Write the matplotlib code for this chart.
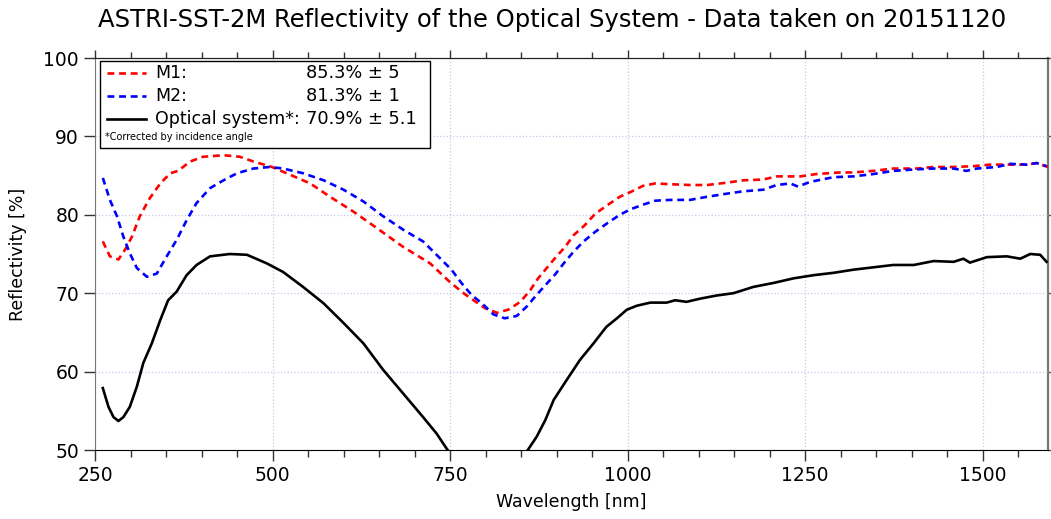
import matplotlib.pyplot as plt
from matplotlib.patches import Rectangle
from matplotlib.ticker import MultipleLocator

# M1 mirror (red dashed)
m1_wl = [261, 271, 283, 292, 302, 313, 327, 342, 356, 367, 384, 402, 431, 454, 473, 499,
         525, 553, 581, 614, 647, 684, 722, 750, 769, 783, 799, 816, 832, 849, 863, 874,
         886, 898, 912, 924, 940, 954, 971, 989, 1004, 1022, 1039, 1060, 1088, 1112, 1140,
         1163, 1191, 1210, 1243, 1266, 1299, 1318, 1346, 1374, 1407, 1431, 1459, 1487,
         1511, 1534, 1562, 1576, 1592]
m1_r = [76.6, 74.7, 74.3, 75.5, 77.2, 79.8, 82.1, 84.0, 85.3, 85.6, 86.8, 87.4, 87.6, 87.4,
        86.8, 86.1, 85.1, 84.0, 82.3, 80.4, 78.3, 75.9, 73.8, 71.4, 70.0, 69.1, 68.1, 67.5,
        67.9, 68.9, 70.4, 71.9, 73.2, 74.5, 75.9, 77.4, 78.7, 80.1, 81.2, 82.3, 82.9, 83.7,
        84.0, 83.9, 83.8, 83.8, 84.1, 84.4, 84.5, 84.9, 84.9, 85.2, 85.4, 85.4, 85.6, 85.9,
        85.9, 86.1, 86.1, 86.2, 86.4, 86.4, 86.4, 86.6, 86.1]

# M2 mirror (blue dashed)
m2_wl = [261, 271, 281, 290, 299, 309, 323, 337, 351, 365, 379, 393, 412, 431, 450, 473,
         496, 515, 543, 572, 600, 628, 656, 684, 712, 731, 752, 766, 780, 795, 811, 827,
         844, 858, 872, 884, 898, 910, 924, 938, 954, 971, 989, 1004, 1022, 1039, 1060,
         1088, 1112, 1140, 1163, 1191, 1210, 1229, 1240, 1257, 1290, 1318, 1346, 1374,
         1407, 1431, 1459, 1477, 1492, 1520, 1539, 1562, 1576, 1590]
m2_r = [84.7, 81.9, 79.8, 77.2, 75.1, 73.2, 72.1, 72.5, 74.7, 76.8, 79.3, 81.5, 83.4, 84.4,
        85.3, 85.9, 86.1, 85.9, 85.3, 84.4, 83.2, 81.7, 79.8, 78.1, 76.6, 74.9, 73.0, 71.3,
        69.8, 68.7, 67.3, 66.8, 67.1, 68.3, 69.8, 71.0, 72.4, 73.8, 75.3, 76.6, 77.8, 78.9,
        80.0, 80.7, 81.3, 81.8, 81.9, 81.9, 82.3, 82.7, 83.0, 83.2, 83.8, 84.0, 83.6, 84.2,
        84.8, 84.9, 85.2, 85.6, 85.8, 85.9, 85.9, 85.6, 85.9, 86.1, 86.5, 86.4, 86.6, 86.2]

# optical system (black)
os_wl = [261, 269, 276, 283, 290, 299, 309, 318, 330, 342, 353, 365, 379, 393, 412, 440,
         464, 492, 515, 543, 572, 600, 628, 656, 684, 712, 731, 745, 760, 800, 845, 858,
         872, 884, 896, 914, 933, 952, 970, 985, 999, 1013, 1032, 1055, 1067, 1083, 1102,
         1125, 1149, 1177, 1205, 1234, 1262, 1290, 1318, 1346, 1374, 1403, 1431, 1459,
         1473, 1482, 1506, 1534, 1553, 1567, 1581, 1590]
os_r = [57.9, 55.5, 54.2, 53.7, 54.2, 55.5, 58.1, 61.1, 63.6, 66.6, 69.1, 70.2, 72.3, 73.6,
        74.7, 75.0, 74.9, 73.8, 72.7, 70.8, 68.7, 66.2, 63.6, 60.2, 57.2, 54.2, 52.1, 50.2,
        48.3, 44.5, 48.3, 49.8, 51.7, 53.8, 56.4, 58.9, 61.5, 63.6, 65.7, 66.8, 67.9, 68.4,
        68.8, 68.8, 69.1, 68.9, 69.3, 69.7, 70.0, 70.8, 71.3, 71.9, 72.3, 72.6, 73.0, 73.3,
        73.6, 73.6, 74.1, 74.0, 74.4, 73.9, 74.6, 74.7, 74.4, 75.0, 74.9, 74.0]

legend_names = ["M1:", "M2:", "Optical system*:"]
legend_values = ["85.3% \u00b1 5", "81.3% \u00b1 1", "70.9% \u00b1 5.1"]
legend_note = "*Corrected by incidence angle"

plt.rcParams['font.family'] = ['DejaVu Sans']
fig = plt.figure(figsize=(10.51, 5.19), dpi=100)
ax = fig.add_axes([95 / 1051, 1 - 450 / 519, 953 / 1051, 392 / 519])

lw = 1.9
ax.plot(m1_wl, m1_r, color='red', lw=lw, dashes=(2.6, 1.8))
ax.plot(m2_wl, m2_r, color='blue', lw=lw, dashes=(2.6, 1.8))
ax.plot(os_wl, os_r, color='black', lw=lw)

ax.set_xlim(250, 1592)
ax.set_ylim(50, 100)
ax.xaxis.set_major_locator(MultipleLocator(250))
ax.xaxis.set_minor_locator(MultipleLocator(50))
ax.yaxis.set_major_locator(MultipleLocator(10))
ax.grid(True, which='major', color='#c8c8e8', ls=':', lw=0.9)
ax.tick_params(axis='both', which='major', direction='out', length=8, width=1,
               labelsize=13.5, color='#333333')
ax.tick_params(axis='x', which='minor', direction='out', length=5, width=1,
               color='#333333')
# short mirror ticks on top and right edges
ax2 = ax.secondary_xaxis('top')
ax2.xaxis.set_major_locator(MultipleLocator(250))
ax2.xaxis.set_minor_locator(MultipleLocator(50))
ax2.tick_params(which='major', length=6, width=1, labeltop=False, color='#333333')
ax2.tick_params(which='minor', length=4, width=1, color='#333333')
ax2.spines['top'].set_color('#222222')
ax3 = ax.secondary_yaxis('right')
ax3.yaxis.set_major_locator(MultipleLocator(10))
ax3.tick_params(length=3, width=1, labelright=False, color='#555555')
ax3.spines['right'].set_color('#777777')
ax3.spines['right'].set_linewidth(1.6)
ax.spines['left'].set_color('#777777')
ax.spines['right'].set_color('#777777')
ax.spines['bottom'].set_color('black')
ax.spines['top'].set_color('#222222')
ax.set_xlabel("Wavelength [nm]", fontsize=12.5, labelpad=6)
ax.set_ylabel("Reflectivity [%]", fontsize=12.5, labelpad=12)

fig.text(552 / 1051, 1 - 20 / 519, "ASTRI-SST-2M Reflectivity of the Optical System - Data taken on 20151120",
         ha='center', va='center', fontsize=17.5)

# legend box drawn by hand so the values line up in a column
ax.add_patch(Rectangle((0.005, 0.770), 0.347, 0.222, transform=ax.transAxes,
                       facecolor='white', edgecolor='black', lw=1, zorder=5))
styles = [dict(color='red', dashes=(2.6, 1.8)), dict(color='blue', dashes=(2.6, 1.8)),
          dict(color='black')]
rows = [0.962, 0.903, 0.844]
for name, val, st, yy in zip(legend_names, legend_values, styles, rows):
    ax.plot([0.013, 0.054], [yy, yy], transform=ax.transAxes, lw=lw, zorder=6, **st)
    ax.text(0.063, yy, name, transform=ax.transAxes, va='center', fontsize=12.5, zorder=6)
    ax.text(0.221, yy, val, transform=ax.transAxes, va='center', fontsize=12.8, zorder=6)
ax.text(0.010, 0.798, legend_note, transform=ax.transAxes, va='center', fontsize=7, zorder=6)

fig.savefig("out.png", dpi=100)
